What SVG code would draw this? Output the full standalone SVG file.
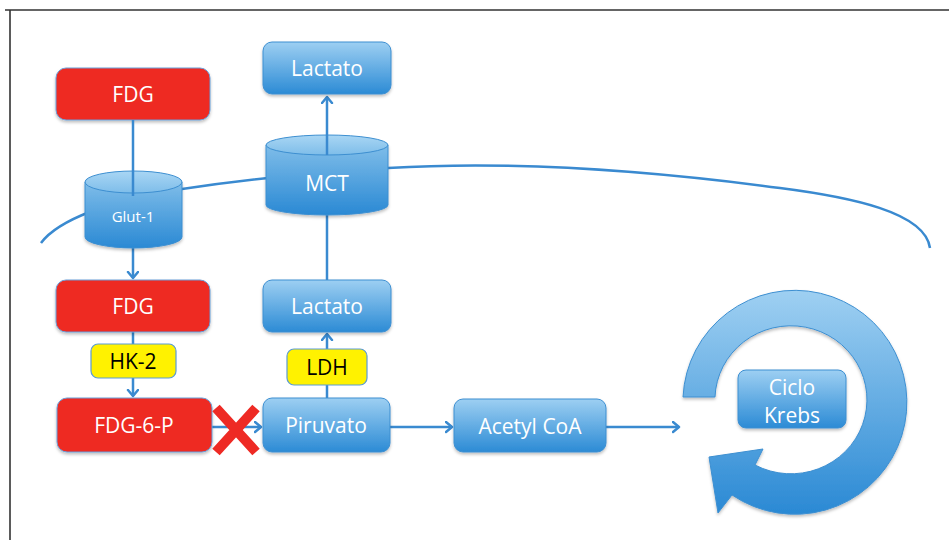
<svg xmlns="http://www.w3.org/2000/svg" width="949" height="540" viewBox="0 0 949 540">
<defs>
<linearGradient id="gBlue" x1="0" y1="0" x2="0" y2="1">
<stop offset="0" stop-color="#9dcff2"/><stop offset="1" stop-color="#2c8bd5"/>
</linearGradient>
<linearGradient id="gCylTop" x1="0" y1="0" x2="0" y2="1">
<stop offset="0" stop-color="#a9d6f4"/><stop offset="1" stop-color="#7ebde9"/>
</linearGradient>
<linearGradient id="gCylBody" x1="0" y1="0" x2="0" y2="1">
<stop offset="0" stop-color="#7fbde9"/><stop offset="1" stop-color="#2a89d4"/>
</linearGradient>
<linearGradient id="gRing" x1="0" y1="0" x2="0" y2="1">
<stop offset="0" stop-color="#9fd0f2"/><stop offset="1" stop-color="#2a89d4"/>
</linearGradient>
<filter id="sh" x="-10%" y="-10%" width="120%" height="130%">
<feDropShadow dx="0" dy="2" stdDeviation="1.5" flood-color="#000" flood-opacity="0.25"/>
</filter>
<marker id="arr" markerWidth="12" markerHeight="14" refX="7" refY="6" orient="auto" markerUnits="userSpaceOnUse">
<path d="M1,1 L7,6 L1,11" fill="none" stroke="#3a8ad0" stroke-width="2.5" stroke-linecap="round" stroke-linejoin="round"/>
</marker>
<style>
.blue{fill:url(#gBlue);stroke:#3d8fd1;stroke-width:1;filter:url(#sh)}
.red{fill:#ee2a24;stroke:#6b9fd8;stroke-width:1;filter:url(#sh)}
.yel{fill:#fff200;stroke:#5b9bd5;stroke-width:1.2}
.t{font-family:"Open Sans","Liberation Sans",sans-serif;font-size:21px;fill:#fff;text-anchor:middle}
.tb{font-family:"Open Sans","Liberation Sans",sans-serif;font-size:21px;fill:#000;text-anchor:middle}
.conn{stroke:#3a8ad0;stroke-width:2.5;fill:none}
.cylb{fill:url(#gCylBody);stroke:#3d8fd1;stroke-width:1;filter:url(#sh)}
.cylt{fill:url(#gCylTop);stroke:#3d8fd1;stroke-width:1}
</style>
</defs>
<rect x="0" y="0" width="949" height="540" fill="#fff"/>
<path d="M5,10 H949 M10,10 V540" stroke="#333" stroke-width="1.6" fill="none"/>

<g id="membrane">
<path class="conn" d="M41,243 C58,220 110,200 182,189 C250,179 320,172 388,168 C520,160 660,172 780,188 C850,197 925,212 930,248"/>
</g>

<g id="krebs-ring">
<path d="M683,397 A112,112 0 1 1 732,495 L718,513 L709,457 L763,449 L755,465 A76,74 0 1 0 715,397 Z" fill="url(#gRing)" stroke="#3d8fd1" stroke-width="1" filter="url(#sh)"/>
</g>

<g id="connectors">
<line class="conn" x1="133" y1="248" x2="133" y2="278" marker-end="url(#arr)"/>
<line class="conn" x1="133" y1="332" x2="133" y2="344"/>
<line class="conn" x1="133" y1="378" x2="133" y2="396" marker-end="url(#arr)"/>
<line class="conn" x1="212" y1="427" x2="261" y2="427" marker-end="url(#arr)"/>
<line class="conn" x1="327" y1="398" x2="327" y2="385"/>
<line class="conn" x1="327" y1="349" x2="327" y2="334" marker-end="url(#arr)"/>
<line class="conn" x1="327" y1="280" x2="327" y2="214"/>
<line class="conn" x1="390" y1="427" x2="452" y2="427" marker-end="url(#arr)"/>
<line class="conn" x1="606" y1="427" x2="679" y2="427" marker-end="url(#arr)"/>
</g>

<g id="fdg-top">
<rect class="red" x="56" y="68" width="154" height="52" rx="10"/>
<text class="t" x="133" y="102">FDG</text>
</g>

<g id="glut1">
<path class="cylb" d="M85,182 V237 A48.5,11 0 0 0 182,237 V182 Z"/>
<ellipse class="cylt" cx="133.5" cy="182" rx="48.5" ry="11"/>
<text class="t" x="133" y="222" style="font-size:15px">Glut-1</text>
</g>
<line class="conn" x1="133" y1="120" x2="133" y2="196"/>

<g id="mct">
<path class="cylb" d="M266,145 V205 A61,10 0 0 0 388,205 V145 Z"/>
<ellipse class="cylt" cx="327" cy="145" rx="61" ry="10"/>
<text class="t" x="327" y="191">MCT</text>
</g>
<line class="conn" x1="327" y1="155" x2="327" y2="97" marker-end="url(#arr)"/>

<g id="lactato-top">
<rect class="blue" x="263" y="42" width="128" height="52" rx="9"/>
<text class="t" x="327" y="76">Lactato</text>
</g>

<g id="fdg-mid">
<rect class="red" x="56" y="280" width="154" height="52" rx="10"/>
<text class="t" x="133" y="314">FDG</text>
</g>

<g id="hk2">
<rect class="yel" x="91" y="344" width="85" height="34" rx="7"/>
<text class="tb" x="133" y="369">HK-2</text>
</g>

<g id="fdg6p">
<rect class="red" x="57" y="398" width="155" height="54" rx="10"/>
<text class="t" x="134" y="433">FDG-6-P</text>
</g>

<g id="lactato-mid">
<rect class="blue" x="263" y="280" width="128" height="52" rx="9"/>
<text class="t" x="327" y="314">Lactato</text>
</g>

<g id="ldh">
<rect class="yel" x="287" y="349" width="80" height="36" rx="7"/>
<text class="tb" x="327" y="375">LDH</text>
</g>

<g id="piruvato">
<rect class="blue" x="263" y="398" width="127" height="54" rx="9"/>
<text class="t" x="326" y="433">Piruvato</text>
</g>

<g id="acetyl">
<rect class="blue" x="454" y="399" width="152" height="53" rx="9"/>
<text class="t" x="530" y="434">Acetyl CoA</text>
</g>

<g id="ciclo-krebs">
<rect class="blue" x="738" y="370" width="108" height="58" rx="8"/>
<text class="t" x="792" y="395">Ciclo</text>
<text class="t" x="792" y="423">Krebs</text>
</g>

<g id="block-x">
<path d="M216,408 L256,452 M256,408 L216,452" stroke="#ee2a24" stroke-width="10" fill="none"/>
</g>
</svg>
